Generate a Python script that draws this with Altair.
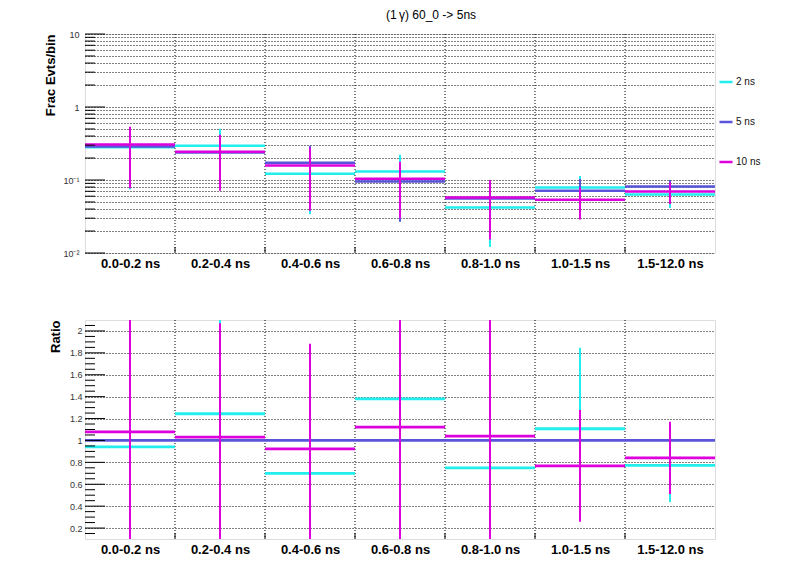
import altair as alt
import pandas as pd

# ---------------- data ----------------
bins = ["0.0-0.2 ns", "0.2-0.4 ns", "0.4-0.6 ns", "0.6-0.8 ns",
        "0.8-1.0 ns", "1.0-1.5 ns", "1.5-12.0 ns"]
series = ["2 ns", "5 ns", "10 ns"]
colors = ["#22eeee", "#5954d9", "#dd00dd"]

frac_2ns = [0.280, 0.295, 0.122, 0.131, 0.0421, 0.0792, 0.0635]
frac_err_2ns = [0.206, 0.210, 0.088, 0.091, 0.030, 0.034, 0.022]
frac_5ns = [0.288, 0.238, 0.1726, 0.0957, 0.0556, 0.0713, 0.0817]
frac_err_5ns = [0.200, 0.150, 0.123, 0.069, 0.035, 0.032, 0.018]
frac_10ns = [0.307, 0.244, 0.158, 0.104, 0.0578, 0.0537, 0.0698]
frac_err_10ns = [0.230, 0.173, 0.120, 0.074, 0.0425, 0.025, 0.023]

ratio_2ns = [0.941, 1.244, 0.700, 1.379, 0.749, 1.107, 0.773]
ratio_err_2ns = [0.90, 0.95, 0.60, 0.90, 0.60, 0.74, 0.336]
ratio_5ns = [1.0, 1.0, 1.0, 1.0, 1.0, 1.0, 1.0]
ratio_err_5ns = [0.0, 0.0, 0.0, 0.0, 0.0, 0.0, 0.0]
ratio_10ns = [1.079, 1.030, 0.923, 1.122, 1.039, 0.767, 0.840]
ratio_err_10ns = [1.30, 1.04, 0.96, 1.20, 1.30, 0.51, 0.33]

bin_edges = [1, 2, 3, 4, 5, 6]
bin_centers = [0.5, 1.5, 2.5, 3.5, 4.5, 5.5, 6.5]

top_grid = [0.01, 0.02, 0.03, 0.04, 0.05, 0.06, 0.07, 0.08, 0.09,
            0.1, 0.2, 0.3, 0.4, 0.5, 0.6, 0.7, 0.8, 0.9,
            1, 2, 3, 4, 5, 6, 7, 8, 9, 10]
top_major = [0.01, 0.1, 1, 10]
top_minor = [0.02, 0.03, 0.04, 0.05, 0.06, 0.07, 0.08, 0.09,
             0.2, 0.3, 0.4, 0.5, 0.6, 0.7, 0.8, 0.9,
             2, 3, 4, 5, 6, 7, 8, 9]
bot_major = [0.2, 0.4, 0.6, 0.8, 1.0, 1.2, 1.4, 1.6, 1.8, 2.0]
bot_minor = [0.15, 0.25, 0.3, 0.35, 0.45, 0.5, 0.55, 0.65, 0.7, 0.75,
             0.85, 0.9, 0.95, 1.05, 1.1, 1.15, 1.25, 1.3, 1.35, 1.45,
             1.5, 1.55, 1.65, 1.7, 1.75, 1.85, 1.9, 1.95, 2.05]

FONT = "Liberation Sans"
W, H = 630, 219


def make_df(vals, errs):
    rows = []
    for s, v, e in zip(series, vals, errs):
        for i in range(len(bins)):
            rows.append({"series": s, "lo": i, "hi": i + 1, "mid": i + 0.5,
                         "val": v[i], "low": v[i] - e[i], "high": v[i] + e[i]})
    return pd.DataFrame(rows)


label_expr = "[" + ",".join("'%s'" % b for b in bins) + "][floor(datum.value)]"


def panel(df, yscale, yaxis, major, minor, legend, hwidth):
    xscale = alt.Scale(domain=[0, 7], nice=False, zero=False)
    xaxis = alt.Axis(values=bin_centers, labelExpr=label_expr, title=None,
                     grid=False, ticks=False, domain=False,
                     labelFont=FONT, labelFontSize=13, labelFontWeight="bold",
                     labelColor="#000", labelPadding=4)
    layers = []
    # vertical dotted grid at bin edges
    layers.append(
        alt.Chart(pd.DataFrame({"e": bin_edges})).mark_rule(
            color="black", strokeWidth=1, strokeDash=[1, 2]
        ).encode(x=alt.X("e:Q", scale=xscale, axis=xaxis))
    )
    first = True
    for s, c in zip(series, colors):
        d = df[df.series == s]
        leg = alt.Legend(title=None, orient="none", legendX=633, legendY=40,
                         symbolType="stroke", symbolSize=170,
                         symbolStrokeWidth=2.5, labelFont=FONT,
                         labelFontSize=10, labelColor="#111",
                         rowPadding=27, labelOffset=2, padding=0) if (legend and first) else None
        col = alt.Color("series:N", scale=alt.Scale(domain=series, range=colors),
                        legend=leg)
        first = False
        layers.append(
            alt.Chart(d).mark_rule(strokeWidth=hwidth, clip=True).encode(
                x=alt.X("lo:Q", scale=xscale, axis=xaxis), x2="hi:Q",
                y=alt.Y("val:Q", scale=yscale, axis=yaxis), color=col)
        )
        layers.append(
            alt.Chart(d).mark_rule(strokeWidth=2, clip=True).encode(
                x=alt.X("mid:Q", scale=xscale, axis=xaxis),
                y=alt.Y("low:Q", scale=yscale, axis=yaxis), y2="high:Q",
                color=alt.Color("series:N", scale=alt.Scale(domain=series, range=colors), legend=None))
        )
    # inner y ticks
    layers.append(
        alt.Chart(pd.DataFrame({"t": major})).mark_rule(color="black", strokeWidth=1).encode(
            y=alt.Y("t:Q", scale=yscale, axis=yaxis), x=alt.value(0), x2=alt.value(20))
    )
    layers.append(
        alt.Chart(pd.DataFrame({"t": minor})).mark_rule(color="black", strokeWidth=1).encode(
            y=alt.Y("t:Q", scale=yscale, axis=yaxis), x=alt.value(0), x2=alt.value(10))
    )
    # x ticks at bin edges (inside, bottom)
    layers.append(
        alt.Chart(pd.DataFrame({"e": bin_edges})).mark_rule(color="black", strokeWidth=1).encode(
            x=alt.X("e:Q", scale=xscale, axis=xaxis), y=alt.value(H), y2=alt.value(H - 6))
    )
    return alt.layer(*layers).properties(width=W, height=H)


top_df = make_df([frac_2ns, frac_5ns, frac_10ns], [frac_err_2ns, frac_err_5ns, frac_err_10ns])
bot_df = make_df([ratio_2ns, ratio_5ns, ratio_10ns], [ratio_err_2ns, ratio_err_5ns, ratio_err_10ns])

top_expr = ("abs(datum.value-10)<1e-9 ? '10' : abs(datum.value-1)<1e-9 ? '1' : "
            "abs(datum.value-0.1)<1e-9 ? '10\u207b\u00b9' : abs(datum.value-0.01)<1e-9 ? '10\u207b\u00b2' : ''")

top_axis = alt.Axis(values=top_grid, labelExpr=top_expr, grid=True, gridDash=[1, 2],
                    gridColor="black", gridOpacity=1, gridWidth=1, ticks=False,
                    domain=False, labelFont=FONT, labelFontSize=9, labelColor="#333",
                    labelPadding=6, title="Frac Evts/bin", titleFont=FONT,
                    titleFontSize=13, titleFontWeight="bold", titleColor="#000",
                    titleX=-35, titleY=0, titleAlign="right", titleBaseline="middle",
                    titleAngle=270)
bot_axis = alt.Axis(values=bot_major, format="~g", grid=True, gridDash=[1, 2],
                    gridColor="black", gridOpacity=1, gridWidth=1, ticks=False,
                    domain=False, labelFont=FONT, labelFontSize=9, labelColor="#333",
                    labelPadding=3, title="Ratio", titleFont=FONT,
                    titleFontSize=13, titleFontWeight="bold", titleColor="#000",
                    titleX=-30, titleY=0, titleAlign="right", titleBaseline="middle",
                    titleAngle=270)

top = panel(top_df, alt.Scale(type="log", domain=[0.01, 10], nice=False),
            top_axis, top_major, top_minor, True, 2.5).properties(
    title=alt.Title("(1\u2009\u03b3) 60_0 -> 5ns", anchor="middle", frame="group", dx=31,
                    offset=8, fontSize=12, font=FONT, fontWeight="normal", color="#000")
)
bottom = panel(bot_df, alt.Scale(domain=[0.1, 2.1], nice=False, zero=False),
               bot_axis, bot_major, bot_minor, False, 2.8)

chart = alt.vconcat(top, bottom, spacing=67, bounds="flush").properties(
    padding={"left": 35, "top": 0, "right": 5, "bottom": 5}
).configure_view(stroke="black", strokeWidth=1).configure(background="white")

chart.save("out.html", embed_options={"renderer": "svg", "actions": False})
